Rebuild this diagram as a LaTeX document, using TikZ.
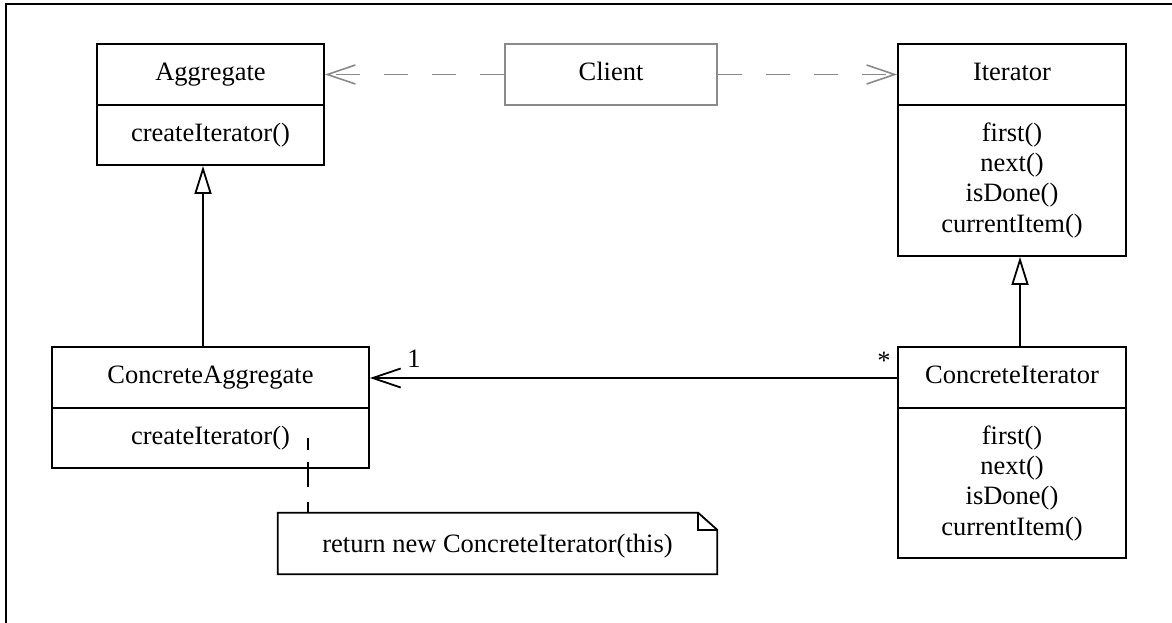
\documentclass[tikz,border=0pt]{standalone}
\usepackage{fontspec}
\setmainfont{Liberation Serif}
\usetikzlibrary{arrows.meta}
\definecolor{depgray}{HTML}{8A8A8A}
\tikzset{
  cls/.style={draw=black, line width=1.8pt, fill=white, inner sep=0pt},
  clientbox/.style={draw=depgray, line width=1.6pt, fill=white, inner sep=0pt},
  txt/.style={anchor=base, inner sep=0pt, font=\fontsize{26.5}{30.3}\selectfont},
  divider/.style={line width=1.8pt},
  gen/.style={line width=1.8pt, -{Triangle[open, length=28pt, width=17pt, fill=white]}},
  assoc/.style={line width=1.8pt, -{Straight Barb[length=28pt, width=19pt]}},
  dep/.style={draw=depgray, line width=1.6pt, dash pattern=on 24pt off 24pt, -{Straight Barb[length=28pt, width=19pt]}},
  notelink/.style={line width=1.8pt, dash pattern=on 12pt off 12pt on 25pt off 15pt on 11pt off 100pt},
  frameline/.style={line width=2.4pt, line cap=rect},
}
\begin{document}
\begin{tikzpicture}[x=1pt, y=-1pt]
\useasboundingbox (0,0) rectangle (1172,622);
% frame
\draw[frameline] (6,622) -- (6,4) -- (1172,4);

% Aggregate
\node[cls, minimum width=227pt, minimum height=121pt] (agg) at (210.5,104.5) {};
\draw[divider] (agg.west |- 0,105) -- (agg.east |- 0,105);
\node[txt] (aggT) at (210.5,80) {Aggregate};
\node[txt] (aggM) at (210.5,141) {createIterator()};

% Client
\node[clientbox, minimum width=212pt, minimum height=61pt] (client) at (611,74.5) {};
\node[txt] (clientT) at (611,80) {Client};

% Iterator
\node[cls, minimum width=228pt, minimum height=212pt] (iter) at (1012,150) {};
\draw[divider] (iter.west |- 0,105) -- (iter.east |- 0,105);
\node[txt] (iterT) at (1012,80) {Iterator};
\node[txt] (iterM1) at (1012,141) {first()};
\node[txt] (iterM2) at (1012,171.3) {next()};
\node[txt] (iterM3) at (1012,201.6) {isDone()};
\node[txt] (iterM4) at (1012,232) {currentItem()};

% ConcreteAggregate
\node[cls, minimum width=317pt, minimum height=121pt] (cagg) at (210.5,407.5) {};
\draw[divider] (cagg.west |- 0,408) -- (cagg.east |- 0,408);
\node[txt] (caggT) at (210.5,383) {ConcreteAggregate};
\node[txt] (caggM) at (210.5,444) {createIterator()};

% ConcreteIterator
\node[cls, minimum width=228pt, minimum height=211pt] (citer) at (1012,452.5) {};
\draw[divider] (citer.west |- 0,408) -- (citer.east |- 0,408);
\node[txt] (citerT) at (1012,383) {ConcreteIterator};
\node[txt] (citerM1) at (1012,444) {first()};
\node[txt] (citerM2) at (1012,474.3) {next()};
\node[txt] (citerM3) at (1012,504.6) {isDone()};
\node[txt] (citerM4) at (1012,535) {currentItem()};

% Note
\node[minimum width=439pt, minimum height=61pt, inner sep=0pt] (note) at (497.5,543.5) {};
\draw[line width=1.8pt, line join=miter]
  (note.south west) -- (note.north west) -- ([xshift=-19pt]note.north east)
  -- ([yshift=-17pt]note.north east) -- (note.south east) -- cycle;
\draw[line width=1.6pt]
  ([xshift=-19pt]note.north east) -- ([xshift=-19pt,yshift=-17pt]note.north east)
  -- ([yshift=-17pt]note.north east);
\node[txt] (noteT) at (497.5,552) {return new ConcreteIterator(this)};

% connectors
\draw[dep] (client.west) -- (agg.east |- client.west);
\draw[dep] (client.east) -- (iter.west |- client.east);
\draw[gen] (cagg.north -| 203,0) -- (agg.south -| 203,0);
\draw[gen] (citer.north -| 1020,0) -- (iter.south -| 1020,0);
\draw[assoc] (citer.west |- 0,378) -- (cagg.east |- 0,378);
\node[txt] (one) at (414,367) {1};
\node[txt] (many) at (884,369) {*};
\coordinate (nc) at (308,438);
\draw[notelink] (nc) -- (note.north -| nc);
\end{tikzpicture}
\end{document}
